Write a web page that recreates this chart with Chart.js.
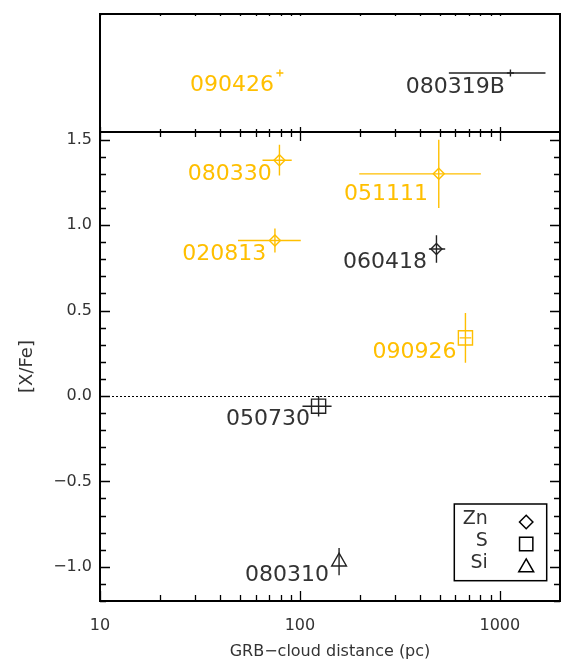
<!DOCTYPE html>
<html>
<head>
<meta charset="utf-8">
<title>[X/Fe] vs GRB-cloud distance</title>
<script src="https://cdn.jsdelivr.net/npm/chart.js@4.4.1/dist/chart.umd.min.js"></script>
<style>
    html, body { margin: 0; padding: 0; background: #ffffff; }
    #chart { display: block; }
</style>
</head>
<body>
<canvas id="chart" width="581" height="663"></canvas>
<script>
// GRBs with a measured [X/Fe] (main panel)
const grbNames = ['080330', '051111', '020813', '060418', '090926', '050730', '080310'];
const grbElement = ['Zn', 'Zn', 'Zn', 'Zn', 'S', 'S', 'Si'];
const grbHighlighted = [true, true, true, false, true, false, false];
const grbDistance = [79, 495, 75, 482, 673, 124, 157];
const grbDistanceLow = [65, 198, 49, 442, 630, 103, null];
const grbDistanceHigh = [91, 804, 101, 533, 720, 144, null];
const grbXFe = [1.38, 1.30, 0.91, 0.86, 0.34, -0.06, -0.97];
const grbXFeErr = [0.09, 0.20, 0.07, 0.08, 0.145, 0.06, 0.08];

// GRBs with a distance but no [X/Fe] (top panel)
const noXFeNames = ['090426', '080319B'];
const noXFeHighlighted = [true, false];
const noXFeDistance = [79.4, 1130];
const noXFeDistanceLow = [null, 556];
const noXFeDistanceHigh = [null, 1692];

// Axes and legend
const xMajorTicks = [10, 100, 1000];
const yMajorTicks = [-1.0, -0.5, 0.0, 0.5, 1.0, 1.5];
const legendElements = ['Zn', 'S', 'Si'];

// ---- styles ----
const FONT = '"DejaVu Sans", sans-serif';
const ORANGE = '#ffbf00';
const DARK = '#222222';
const TEXT = '#333333';
const markerStyle = { Zn: 'rectRot', S: 'rect', Si: 'triangle' };
const markerRadius = { Zn: 5.5, S: 10, Si: 8.5 };
const legendRadius = { Zn: 6.7, S: 9.4, Si: 8.6 };
// label anchor: [right edge offset, digit-top offset] from the marker, px
const grbLabelShift = [[-7.6, 4], [-10.7, 10.6], [-8.6, 3.3], [-9.4, 3.3], [-9, 4], [-8.7, 2.3], [-10, 3]];
const noXFeLabelShift = [[-6, 2.3], [-5.7, 4.3]];

function colorFor(flag) {
    return flag ? ORANGE : DARK;
}

function formatY(v) {
    const s = Math.abs(v).toFixed(1);
    return v < 0 ? '\u2212' + s : s;
}

/**
 * Fixed axis sizes, no extra room for edge labels
 */
function fixWidth(s) {
    s.width = 90;
    s.paddingTop = 0;
    s.paddingBottom = 0;
}

/**
 * Error bars, y = 0 reference line
 */
function drawUnderlay(chart) {
    const ctx = chart.ctx;
    const x = chart.scales.x;
    const y = chart.scales.y;
    const yTop = chart.scales.yTop;

    ctx.save();
    ctx.strokeStyle = '#000';
    ctx.lineWidth = 1;
    ctx.setLineDash([2, 2]);
    ctx.beginPath();
    ctx.moveTo(x.left, Math.round(y.getPixelForValue(0)) + 0.5);
    ctx.lineTo(x.right, Math.round(y.getPixelForValue(0)) + 0.5);
    ctx.stroke();
    ctx.setLineDash([]);

    ctx.lineWidth = 1.4;
    grbNames.forEach(function (name, i) {
        const px = x.getPixelForValue(grbDistance[i]);
        const py = y.getPixelForValue(grbXFe[i]);
        ctx.strokeStyle = colorFor(grbHighlighted[i]);
        ctx.beginPath();
        if (grbDistanceLow[i] !== null) {
            ctx.moveTo(x.getPixelForValue(grbDistanceLow[i]), py);
            ctx.lineTo(x.getPixelForValue(grbDistanceHigh[i]), py);
        }
        ctx.moveTo(px, y.getPixelForValue(grbXFe[i] + grbXFeErr[i]));
        ctx.lineTo(px, y.getPixelForValue(grbXFe[i] - grbXFeErr[i]));
        ctx.stroke();
    });

    noXFeNames.forEach(function (name, i) {
        if (noXFeDistanceLow[i] === null) return;
        const py = yTop.getPixelForValue(0.5);
        ctx.strokeStyle = colorFor(noXFeHighlighted[i]);
        ctx.beginPath();
        ctx.moveTo(x.getPixelForValue(noXFeDistanceLow[i]), py);
        ctx.lineTo(x.getPixelForValue(noXFeDistanceHigh[i]), py);
        ctx.stroke();
    });
    ctx.restore();
}

/**
 * Tick marks along a horizontal edge
 */
function drawXTicks(ctx, xScale, yPix, dir, majorLen, minorLen) {
    const values = [];
    xMajorTicks.forEach(function (m) {
        values.push([m, majorLen]);
        for (let k = 2; k <= 9; k++) {
            if (m * k < xScale.max) values.push([m * k, minorLen]);
        }
    });
    ctx.beginPath();
    values.forEach(function (t) {
        const px = Math.round(xScale.getPixelForValue(t[0])) + 0.5;
        ctx.moveTo(px, yPix);
        ctx.lineTo(px, yPix + dir * t[1]);
    });
    ctx.stroke();
}

/**
 * Tick marks on both sides of the main panel
 */
function drawYTicks(ctx, yScale, left, right) {
    ctx.beginPath();
    for (let i = -12; i <= 15; i++) {
        const v = i / 10;
        const len = i % 5 === 0 ? 10 : 6;
        const py = Math.round(yScale.getPixelForValue(v)) + 0.5;
        ctx.moveTo(left, py);
        ctx.lineTo(left + len, py);
        ctx.moveTo(right, py);
        ctx.lineTo(right - len, py);
    }
    ctx.stroke();
}

function drawMarker(ctx, style, radius, x, y) {
    ctx.fillStyle = 'rgba(0,0,0,0)';
    Chart.helpers.drawPoint(ctx, { pointStyle: style, radius: radius, borderWidth: 1.4, rotation: 0 }, x, y);
}

/**
 * Labels, frame, ticks and the element key
 */
function drawOverlay(chart) {
    const ctx = chart.ctx;
    const x = chart.scales.x;
    const y = chart.scales.y;
    const yTop = chart.scales.yTop;
    const area = chart.chartArea;

    ctx.save();
    ctx.font = '22px ' + FONT;
    ctx.textAlign = 'right';
    ctx.textBaseline = 'alphabetic';
    grbNames.forEach(function (name, i) {
        const px = x.getPixelForValue(grbDistance[i]);
        const py = y.getPixelForValue(grbXFe[i]);
        ctx.fillStyle = grbHighlighted[i] ? ORANGE : TEXT;
        ctx.fillText(name, px + grbLabelShift[i][0], py + grbLabelShift[i][1] + 16);
    });
    noXFeNames.forEach(function (name, i) {
        const px = x.getPixelForValue(noXFeDistance[i]);
        const py = yTop.getPixelForValue(0.5);
        ctx.fillStyle = noXFeHighlighted[i] ? ORANGE : TEXT;
        ctx.fillText(name, px + noXFeLabelShift[i][0], py + noXFeLabelShift[i][1] + 16);
    });

    // frames
    ctx.strokeStyle = '#000';
    ctx.lineWidth = 2;
    ctx.strokeRect(area.left, yTop.top, area.right - area.left, yTop.bottom - yTop.top);
    ctx.strokeRect(area.left, y.top, area.right - area.left, y.bottom - y.top);

    ctx.lineWidth = 1.3;
    drawXTicks(ctx, x, y.bottom, -1, 10, 6);
    drawXTicks(ctx, x, y.top, 1, 9, 5);
    drawXTicks(ctx, x, yTop.bottom, -1, 5, 3);
    drawXTicks(ctx, x, yTop.top, 1, 2, 2);
    drawYTicks(ctx, y, area.left, area.right);

    // element key
    const boxRight = area.right - 13.3;
    const boxBottom = y.bottom - 20.3;
    const boxW = 92.4;
    const boxH = 76.7;
    ctx.lineWidth = 1.5;
    ctx.strokeRect(boxRight - boxW, boxBottom - boxH, boxW, boxH);
    ctx.font = '19px ' + FONT;
    ctx.textAlign = 'right';
    ctx.textBaseline = 'middle';
    legendElements.forEach(function (el, i) {
        const rowY = boxBottom - boxH + 16.5 + i * 22;
        ctx.fillStyle = TEXT;
        ctx.fillText(el, boxRight - boxW + 33.5, rowY - 1);
        ctx.strokeStyle = '#000';
        drawMarker(ctx, markerStyle[el], legendRadius[el], boxRight - 20.5, rowY + (el === 'Si' ? 3 : 1.5));
    });
    ctx.restore();
}

const panelPlugin = {
    id: 'panels',
    beforeDatasetsDraw: drawUnderlay,
    afterDatasetsDraw: drawOverlay
};

/**
 * Build the chart
 */
function initializeChart() {
    const canvas = document.getElementById('chart');
    const mainPoints = grbNames.map(function (n, i) {
        return { x: grbDistance[i], y: grbXFe[i] };
    });
    const topPoints = noXFeNames.map(function (n, i) {
        return { x: noXFeDistance[i], y: 0.5 };
    });

    window.xfeChart = new Chart(canvas, {
        type: 'scatter',
        data: {
            datasets: [
                {
                    label: '[X/Fe]',
                    data: mainPoints,
                    xAxisID: 'x',
                    yAxisID: 'y',
                    pointStyle: grbElement.map(function (e) { return markerStyle[e]; }),
                    pointRadius: grbElement.map(function (e) { return markerRadius[e]; }),
                    pointBorderColor: grbHighlighted.map(colorFor),
                    pointBackgroundColor: 'rgba(0,0,0,0)',
                    pointBorderWidth: 1.4
                },
                {
                    label: 'no [X/Fe]',
                    data: topPoints,
                    xAxisID: 'x',
                    yAxisID: 'yTop',
                    pointStyle: 'cross',
                    pointRadius: 3.5,
                    pointBorderColor: noXFeHighlighted.map(colorFor),
                    pointBorderWidth: 1.4
                }
            ]
        },
        options: {
            responsive: false,
            animation: false,
            devicePixelRatio: 1,
            events: [],
            layout: { padding: { left: 10, right: 21, top: 14, bottom: 0 } },
            plugins: {
                legend: { display: false },
                tooltip: { enabled: false }
            },
            scales: {
                x: {
                    type: 'logarithmic',
                    position: 'bottom',
                    min: 10,
                    max: 2000,
                    afterBuildTicks: function (s) { s.ticks = xMajorTicks.map(function (v) { return { value: v }; }); },
                    afterFit: function (s) { s.height = 62; s.paddingLeft = 0; s.paddingRight = 0; },
                    grid: { display: false, drawTicks: false },
                    border: { display: false },
                    ticks: {
                        padding: 15,
                        autoSkip: false,
                        maxRotation: 0,
                        color: TEXT,
                        font: { family: FONT, size: 16 },
                        callback: function (v) { return String(v); }
                    },
                    title: {
                        display: true,
                        text: 'GRB\u2212cloud distance (pc)',
                        color: TEXT,
                        font: { family: FONT, size: 16 },
                        padding: { top: 0, bottom: 2 }
                    }
                },
                y: {
                    type: 'linear',
                    position: 'left',
                    stack: 'panels',
                    stackWeight: 469,
                    min: -1.2,
                    max: 1.545,
                    afterBuildTicks: function (s) { s.ticks = yMajorTicks.map(function (v) { return { value: v }; }); },
                    afterFit: fixWidth,
                    grid: { display: false, drawTicks: false },
                    border: { display: false },
                    ticks: {
                        padding: 8,
                        color: TEXT,
                        font: { family: FONT, size: 16 },
                        callback: formatY
                    },
                    title: {
                        display: true,
                        text: '[X/Fe]',
                        color: TEXT,
                        font: { family: FONT, size: 18 },
                        padding: { top: 7, bottom: 0 }
                    }
                },
                yTop: {
                    type: 'linear',
                    position: 'left',
                    stack: 'panels',
                    stackWeight: 118,
                    min: 0,
                    max: 1,
                    afterFit: fixWidth,
                    grid: { display: false, drawTicks: false },
                    border: { display: false },
                    ticks: { display: false }
                }
            }
        },
        plugins: [panelPlugin]
    });
}

initializeChart();
</script>
</body>
</html>
